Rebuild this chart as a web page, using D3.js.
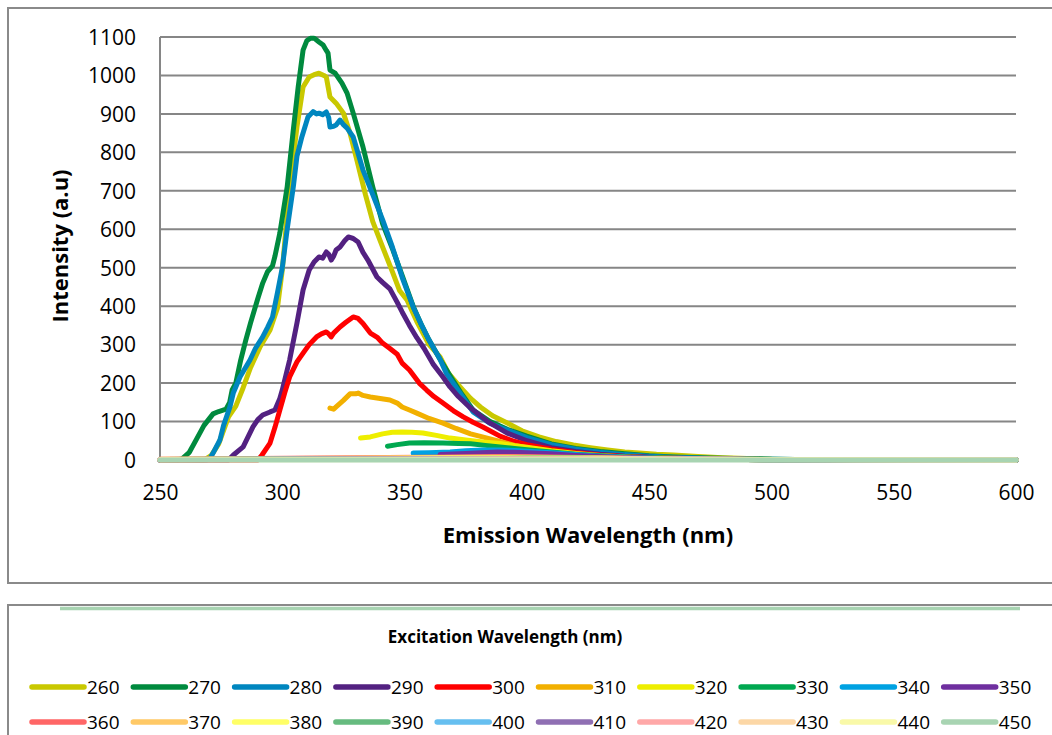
<!DOCTYPE html>
<html lang="en">
<head>
<meta charset="UTF-8">
<title>emission spectra</title>
<script src="https://cdn.jsdelivr.net/npm/d3@7"></script>
<style>
    body { margin:0; background:#fff; }
    svg text { font-family: "Open Sans", "DejaVu Sans", sans-serif; fill:#000; }
    .grid line { stroke:#868686; stroke-width:2px; }
    .tick text { font-size:21px; }
</style>
</head>
<body>
<div id="chart"></div>
<script>
// excitation wavelengths and colours (legend order)
var excitation = [260,270,280,290,300,310,320,330,340,350,360,370,380,390,400,410,420,430,440,450];
var colors = ["#c9c800","#008a3e","#0086bf","#532181","#ff0000","#f2b000","#eeee00","#00a850","#00a2e2","#6f2f9f",
              "#ff6666","#ffc966","#ffff66","#66bb7f","#66bff0","#8f6fb3","#ffa8a8","#fcd7a6","#f9f9a8","#a8d4b2"];
var xTicks = [250,300,350,400,450,500,550,600];
var yTicks = [0,100,200,300,400,500,600,700,800,900,1000,1100];

// [emission nm, intensity]
var ex260 = [[250,0],[268,0],[271,12],[274,42],[278,112],[281,140],[284,188],[287,240],[291,295],[295,338],[298,395],[300,494],[303,710],[306,866],[308.5,970],[311,996],[313,1002],[315,1006],[317,1000],[318,996],[319.5,944],[322,928],[325,902],[327.7,850],[330.5,780],[334,690],[337,620],[341,554],[345,490],[348,440],[351,416],[355,360],[360,300],[364.5,268],[368,225],[372.7,190],[377,160],[381,138],[386,115],[392,96],[398,76],[405,60],[412,48],[419,39],[426,32],[433,26],[440,21],[446,18],[453,15],[460,13],[470,9],[480,6],[490,4],[500,2],[520,1],[550,0],[600,0]];
var ex270 = [[250,0],[257,0],[259,3],[262,20],[265,55],[268,90],[271.7,120],[274,126],[277,132],[278.5,150],[279.5,182],[281,200],[283,260],[285,310],[287,356],[290,420],[292,460],[294,490],[296,505],[297,530],[299,590],[302,710],[304.5,858],[306.5,970],[308.5,1066],[310,1090],[311.5,1097],[313,1097],[314,1092],[315,1087],[316.7,1079],[318,1065],[318.7,1058],[319.5,1014],[321.6,1006],[324.4,980],[326.5,954],[329,902],[333,814],[337,710],[341,615],[345,550],[349,480],[353.5,400],[357,350],[360,312],[364.5,262],[369,215],[373,175],[378,130],[385,100],[392,80],[400,62],[410,42],[420,30],[430,22],[440,16],[450,11],[460,8],[475,5],[490,3],[510,1],[540,0],[600,0]];
var ex280 = [[250,0],[269,0],[270.5,5],[271.7,18],[274.5,52],[276,90],[278.6,138],[280,175],[282.7,216],[286.8,260],[289,290],[292,320],[294,345],[296,372],[298,434],[300,500],[302,600],[304.5,710],[306,790],[308,840],[310.5,892],[312.6,906],[314,900],[315,902],[316.5,898],[318,905],[319,890],[319.5,866],[321,868],[322,871],[323.6,884],[325,872],[326.5,863],[329,840],[333,754],[337,690],[341,625],[345,554],[349,475],[353.5,398],[357,350],[360,312],[364.5,262],[367,226],[372,180],[378,125],[385,95],[392,78],[400,58],[410,40],[420,28],[430,20],[440,14],[450,10],[460,7],[475,4],[490,2],[510,1],[540,0],[600,0]];
var ex290 = [[250,0],[278,0],[280,13],[284,34],[288,86],[290,105],[292,117],[295,125],[297,130],[299,160],[300,182],[303,260],[306,356],[308.5,442],[311,494],[313,515],[315,528],[316.5,525],[318,541],[319,535],[320,520],[321,530],[322,546],[323.6,554],[325.5,570],[327,580],[329,576],[331,567],[333,540],[335,520],[338.7,476],[341,462],[344,445],[347,410],[349,385],[352,350],[355,318],[358,290],[361.6,250],[365.7,216],[368.6,190],[372,165],[377,135],[384,100],[392,70],[400,50],[410,32],[420,22],[430,15],[440,10],[455,6],[470,3],[490,1],[520,0],[600,0]];
var ex300 = [[250,0],[290,0],[291.7,13],[295,44],[297,85],[299,130],[301,175],[303,216],[306,255],[308.5,278],[311,300],[314,320],[316,328],[318,333],[319,328],[320,320],[321,330],[323.6,346],[326,358],[329,372],[331,368],[333,355],[336,330],[339,318],[341,304],[344,290],[347,275],[349,252],[352,234],[356,200],[359,182],[362,165],[365.7,148],[370,128],[374,112],[378,98],[382,86],[389,62],[395,48],[400,40],[410,28],[420,19],[430,13],[440,9],[455,5],[470,3],[490,1],[520,0],[600,0]];
var ex310 = [[319.5,135],[321,132],[322,138],[325,155],[327.7,172],[330,172],[331,174],[333,168],[336,164],[340,160],[344,156],[347,148],[349,138],[352,130],[355,122],[360,108],[365.7,96],[371,82],[377,68],[383,58],[389,48],[395,38],[400,32],[410,22],[420,15],[430,10],[440,7],[455,4],[470,2],[490,1],[520,0],[600,0]];
var ex320 = [[332,57],[336,60],[341,68],[345,72],[349,73],[353,72],[357.5,70],[363,64],[368.6,57],[375,52],[382,47],[389,43],[395,37],[400,33],[410,24],[420,17],[430,12],[440,8],[455,5],[470,3],[490,1],[520,0],[600,0]];
var ex330 = [[343,36],[347,40],[352,44],[358,45],[365.7,44],[372,43],[377,42],[383,38],[389,34],[395,30],[400,27],[410,21],[420,15],[430,11],[440,8],[455,5],[470,3],[490,1],[520,0],[600,0]];
var ex340 = [[353.5,18],[360,19],[368.6,21],[375,24],[382,26],[389,26],[395,25],[400,23],[410,19],[420,14],[430,10],[440,7],[455,4],[470,2],[490,1],[520,0],[600,0]];
var ex350 = [[364.5,14],[375,17],[388,21],[395,20],[400,19],[410,16],[420,12],[430,9],[440,6],[455,4],[470,2],[490,1],[520,0],[600,0]];
var ex360 = [[250,2],[370,8],[390,9],[410,8],[430,6],[460,3],[500,1],[600,0]];
var ex370 = [[250,2],[380,7],[400,7],[420,6],[440,4],[470,2],[510,1],[600,0]];
var ex380 = [[250,1],[390,6],[410,6],[430,5],[450,3],[480,2],[520,1],[600,0]];
var ex390 = [[250,1],[400,5],[420,5],[440,4],[460,3],[490,1],[600,0]];
var ex400 = [[250,1],[410,4],[430,4],[450,3],[480,2],[520,1],[600,0]];
var ex410 = [[250,1],[420,4],[440,3],[460,3],[490,1],[600,0]];
var ex420 = [[250,1],[430,3],[450,3],[480,2],[520,1],[600,0]];
var ex430 = [[250,1],[440,3],[460,2],[500,1],[600,0]];
var ex440 = [[250,0],[450,2],[480,1],[600,0]];
var ex450 = [[250,0],[600,0]];
var spectra = [ex260,ex270,ex280,ex290,ex300,ex310,ex320,ex330,ex340,ex350,
               ex360,ex370,ex380,ex390,ex400,ex410,ex420,ex430,ex440,ex450];

var W = 1052, H = 735;
var svg = d3.select("#chart").append("svg").attr("width", W).attr("height", H);

// chart area frame and legend frame
svg.append("path").attr("d", "M1060,8 H8 V583 H1060")
    .attr("fill","none").attr("stroke","#8a8a8a").attr("stroke-width",2);
svg.append("path").attr("d", "M1060,605 H8 V740")
    .attr("fill","none").attr("stroke","#8a8a8a").attr("stroke-width",2);

var x = d3.scaleLinear().domain([250,600]).range([160,1016]);
var y = d3.scaleLinear().domain([0,1100]).range([460,37]);

// gridlines
svg.append("g").attr("class","grid")
    .selectAll("line").data(yTicks.filter(function(d){ return d > 0; }))
    .enter().append("line")
    .attr("x1", x(250)).attr("x2", x(600))
    .attr("y1", function(d){ return y(d); }).attr("y2", function(d){ return y(d); });

svg.append("line").attr("x1", x(250)).attr("x2", x(250)).attr("y1", y(1100)).attr("y2", y(0))
    .attr("stroke","#868686").attr("stroke-width",2);

// axes (labels only)
var yAxis = svg.append("g").attr("transform","translate(" + (x(250) - 24) + ",0)")
    .call(d3.axisLeft(y).tickValues(yTicks).tickFormat(d3.format("d")).tickSize(0).tickPadding(0));
yAxis.select(".domain").remove();
yAxis.selectAll("text").attr("dy","0.35em");

var xAxis = svg.append("g").attr("transform","translate(0," + (y(0) + 25) + ")")
    .call(d3.axisBottom(x).tickValues(xTicks).tickFormat(d3.format("d")).tickSize(0).tickPadding(0));
xAxis.select(".domain").remove();
xAxis.selectAll("text").attr("dy","0.71em");

svg.append("text").attr("transform","translate(68,246) rotate(-90)")
    .attr("text-anchor","middle").style("font-size","22px").style("font-weight","bold")
    .text("Intensity (a.u)");
svg.append("text").attr("x",588).attr("y",543)
    .attr("text-anchor","middle").style("font-size","22px").style("font-weight","bold")
    .text("Emission Wavelength (nm)");

// spectra
var line = d3.line().x(function(d){ return x(d[0]); }).y(function(d){ return y(d[1]); });
svg.append("g").selectAll("path").data(spectra).enter().append("path")
    .attr("d", line)
    .attr("fill","none")
    .attr("stroke", function(d,i){ return colors[i]; })
    .attr("stroke-width", 5)
    .attr("stroke-linejoin","round")
    .attr("stroke-linecap","round");

// stray series line at top of the legend box
svg.append("line").attr("x1",60).attr("x2",1020).attr("y1",608.5).attr("y2",608.5)
    .attr("stroke", colors[19]).attr("stroke-width",3.5);

// legend
svg.append("text").attr("x",505).attr("y",643).attr("text-anchor","middle")
    .style("font-size","17px").style("font-weight","bold")
    .text("Excitation Wavelength (nm)");

var leg = svg.append("g").selectAll("g").data(excitation).enter().append("g")
    .attr("transform", function(d,i){
        return "translate(" + (30 + (i % 10) * 101.3) + "," + (i < 10 ? 687 : 722) + ")";
    });
leg.append("line").attr("x1",2).attr("x2",54)
    .attr("stroke", function(d,i){ return colors[i]; })
    .attr("stroke-width",5.5).attr("stroke-linecap","round");
leg.append("text").attr("x",57).attr("dy","0.36em")
    .style("font-size","19px").text(function(d){ return d; });
</script>
</body>
</html>
